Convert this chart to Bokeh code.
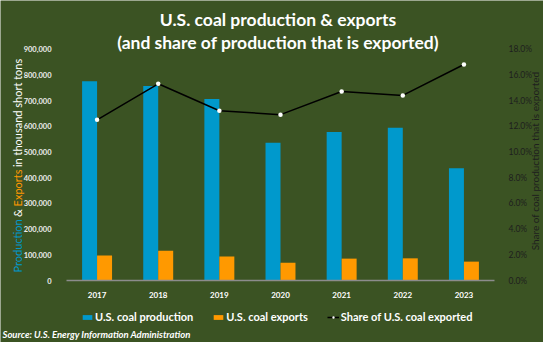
import math
from bokeh.plotting import figure
from bokeh.models import (Range1d, LinearAxis, NumeralTickFormatter, FixedTicker, Label,
                          Legend, LegendItem, ColumnDataSource)
from bokeh.transform import dodge
from bokeh.embed import file_html
from bokeh.resources import INLINE

years = ["2017", "2018", "2019", "2020", "2021", "2022", "2023"]
production = [774600, 756200, 706300, 535400, 577400, 594200, 437000]
exports = [97300, 115600, 93800, 69100, 85100, 86200, 73400]
share = [0.125, 0.153, 0.132, 0.129, 0.147, 0.144, 0.168]
left_ticks = [0, 100000, 200000, 300000, 400000, 500000, 600000, 700000, 800000, 900000]
right_ticks = [0.0, 0.02, 0.04, 0.06, 0.08, 0.10, 0.12, 0.14, 0.16, 0.18]

BG = "#3b5323"
BLUE = "#0099cc"
ORANGE = "#ff9900"
FONT = "Lato"

# ---- geometry: the frame covers the whole canvas; axes sit at fixed locations ----
W, H = 543, 342
PLOT_L, PLOT_R = 66, 494          # pixel x of the category area
PLOT_B, PLOT_T = 280, 48.6        # pixel y (from top) of value 0 and of 900,000 / 18%
ncat = len(years)
ux = (PLOT_R - PLOT_L) / ncat
X0, X1 = -PLOT_L / ux, ncat + (W - PLOT_R) / ux
uy = (PLOT_B - PLOT_T) / 900000
Y0, Y1 = -(H - PLOT_B) / uy, PLOT_B / uy
pct_scale = 0.18 / 900000

centers = [i + 0.5 for i in range(ncat)]
src = ColumnDataSource(dict(x=centers, prod=production, exp=exports, share=share))

p = figure(width=W, height=H, x_range=Range1d(X0, X1), y_range=Range1d(Y0, Y1),
           output_backend="svg", toolbar_location=None, min_border=0)
p.background_fill_color = BG
p.border_fill_color = BG
p.outline_line_color = None
p.grid.visible = False
p.extra_y_ranges = {"pct": Range1d(Y0 * pct_scale, Y1 * pct_scale)}

r_prod = p.vbar(x=dodge("x", -0.1225), top="prod", width=0.245, source=src,
                fill_color=BLUE, line_color=None)
r_exp = p.vbar(x=dodge("x", 0.1225), top="exp", width=0.245, source=src,
               fill_color=ORANGE, line_color=None)
r_line = p.line(x="x", y="share", source=src, y_range_name="pct", line_color="black", line_width=1.5)
r_pts = p.scatter(x="x", y="share", source=src, y_range_name="pct", size=4.5,
                  fill_color="white", line_color=None)

# left axis
la = p.yaxis[0]
la.fixed_location = 0
la.ticker = FixedTicker(ticks=left_ticks)
la.formatter = NumeralTickFormatter(format="0,0")
la.axis_line_color = None
la.major_tick_line_color = None
la.minor_tick_line_color = None
la.major_label_text_color = "#ececec"
la.major_label_text_font = FONT
la.major_label_text_font_style = "bold"
la.major_label_text_font_size = "7.5px"
la.major_label_standoff = 9

# right axis
ra = LinearAxis(y_range_name="pct", ticker=FixedTicker(ticks=right_ticks),
                formatter=NumeralTickFormatter(format="0.0%"), fixed_location=ncat)
ra.axis_line_color = None
ra.major_tick_line_color = None
ra.minor_tick_line_color = None
ra.major_label_text_color = "#1e1e1e"
ra.major_label_text_font = FONT
ra.major_label_text_font_size = "8.5px"
ra.major_label_standoff = 8
p.add_layout(ra, "right")

# category axis
xa = p.xaxis[0]
xa.fixed_location = 0
xa.bounds = (0, ncat)
xa.ticker = FixedTicker(ticks=centers)
xa.major_label_overrides = {c: y for c, y in zip(centers, years)}
xa.axis_line_color = "#8c8c8c"
xa.axis_line_width = 1.5
xa.major_tick_line_color = None
xa.minor_tick_line_color = None
xa.major_label_text_color = "white"
xa.major_label_text_font = FONT
xa.major_label_text_font_style = "bold"
xa.major_label_text_font_size = "8px"
xa.major_label_standoff = 5


def lab(text, x, ytop, **kw):
    # x, ytop: canvas pixels from the top-left corner
    d = dict(x=x, y=H - ytop, x_units="screen", y_units="screen", text=text, text_font=FONT)
    d.update(kw)
    p.add_layout(Label(**d))


# title
lab("U.S. coal production & exports", 277.5, 19, text_font_size="17.5px", text_font_style="bold",
    text_color="white", text_align="center", text_baseline="middle")
lab("(and share of production that is exported)", 277.5, 42, text_font_size="17.5px",
    text_font_style="bold", text_color="white", text_align="center", text_baseline="middle")

# left axis title (multi-coloured, rotated)
segs = [("Production", BLUE, 272, "left"), ("&", "white", 212.5, "center"),
        ("Exports", ORANGE, 205.9, "left"), ("in thousand short tons", "white", 166.6, "left")]
for t, c, ytop, al in segs:
    lab(t, 17, ytop, angle=math.pi / 2, text_font_size="11px", text_color=c,
        text_align=al, text_baseline="middle")

# right axis title
lab("Share of coal production that is exported", 534, 160.5, angle=math.pi / 2,
    text_font_size="10px", text_color="#1e1e1e", text_align="center", text_baseline="middle")

# source
lab("Source: U.S. Energy Information Administration", 2, 333.5, text_font_size="9.5px",
    text_font_style="bold italic", text_color="white", text_align="left", text_baseline="middle")

legend = Legend(items=[
    LegendItem(label="U.S. coal production", renderers=[r_prod]),
    LegendItem(label="U.S. coal exports", renderers=[r_exp]),
    LegendItem(label="Share of U.S. coal exported", renderers=[r_line, r_pts]),
], orientation="horizontal", location=(81, 19))
legend.background_fill_alpha = 0
legend.border_line_color = None
legend.label_text_color = "white"
legend.label_text_font = FONT
legend.label_text_font_style = "bold"
legend.label_text_font_size = "11px"
legend.glyph_width = 12
legend.glyph_height = 6
legend.label_height = 12
legend.label_standoff = 2
legend.spacing = 19
legend.padding = 2
legend.margin = 0
p.add_layout(legend, "center")

open("out.html", "w").write(file_html(p, INLINE))
